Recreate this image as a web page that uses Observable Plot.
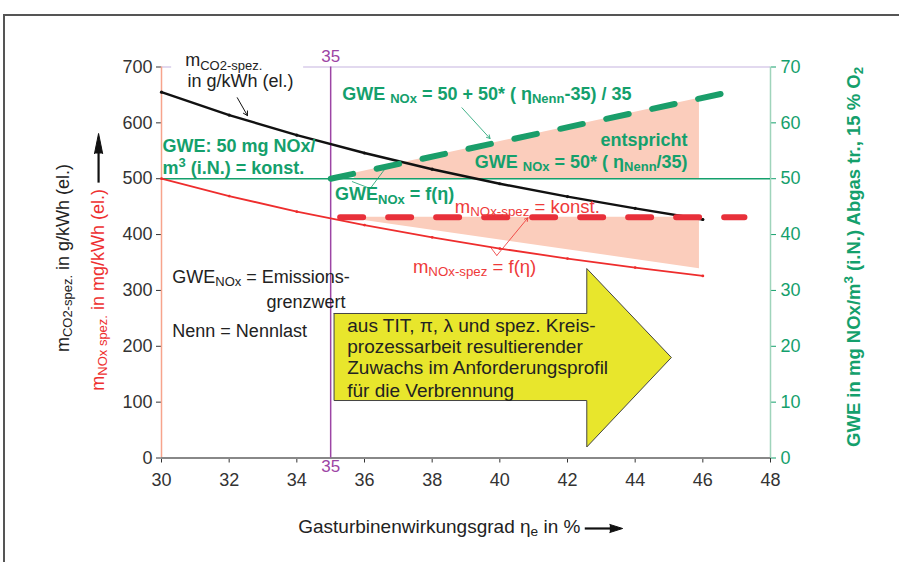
<!DOCTYPE html>
<html><head><meta charset="utf-8">
<script src="https://cdn.jsdelivr.net/npm/d3@7"></script>
<script src="https://cdn.jsdelivr.net/npm/@observablehq/plot@0.6"></script>
<style>
body{margin:0;background:#fff;}
#wrap{position:relative;width:899px;height:562px;overflow:hidden;background:#fff;}
#frame{position:absolute;left:3px;top:14px;width:900px;height:560px;border-top:2px solid #555;border-left:2px solid #555;pointer-events:none;}
</style></head><body>
<div id="wrap"><div id="chart"></div><div id="frame"></div></div>
<script>
// ---- data ----
const eta = [30, 32, 34, 36, 38, 40, 42, 44, 46];               // Gasturbinenwirkungsgrad in %
const co2Spez = [655, 614, 578, 546, 517, 491, 468, 447, 427];  // g/kWh
const noxSpez = [500, 469, 441, 417, 395, 375, 357, 341, 326];  // mg/kWh
const gweKonst = 50;                 // mg NOx/m3 (right axis)
const gweDynEta = [35, 46.7];
const gweDyn = [50, 65.4];           // mg NOx/m3 (right axis)
const noxKonst = 431;                // mg/kWh
const noxKonstEta = [35.28, 47.23];
const hatchUpEta = [35.7, 45.9];
const hatchUpLow = [50, 50];
const hatchUpHigh = [51, 64.4];
const hatchLowEta = [36.0, 45.9];
const hatchLowTop = [431, 431];
const hatchLowBottom = [425, 339];
const xTicks = [30, 32, 34, 36, 38, 40, 42, 44, 46, 48];
const yTicksLeft = [0, 100, 200, 300, 400, 500, 600, 700];
const yTicksRight = [0, 10, 20, 30, 40, 50, 60, 70];
const nennEta = 35;

// annotation anchors (data coordinates)
const labelsGreen = [
  {x: 30.03, y: 547, t: "GWE: 50 mg NOx/"},
  {x: 30.03, y: 509, t: "m^{3} (i.N.) = konst."},
  {x: 35.34, y: 641, t: "GWE _{NOx} = 50 + 50* ( η_{Nenn}-35) / 35"},
  {x: 35.13, y: 461, t: "GWE_{NOx} = f(η)"}
];
const labelsGreenRight = [
  {x: 45.55, y: 559, t: "entspricht"},
  {x: 45.55, y: 520, t: "GWE _{NOx} = 50* ( η_{Nenn}/35)"}
];
const labelsRed = [
  {x: 38.67, y: 439, t: "m_{NOx-spez} = konst."},
  {x: 37.43, y: 331, t: "m_{NOx-spez} = f(η)"}
];
const labelsBlack = [
  {x: 30.70, y: 701, t: "m_{CO2-spez.}"},
  {x: 30.77, y: 664, t: "in g/kWh (el.)"},
  {x: 30.32, y: 314, t: "GWE_{NOx} = Emissions-"},
  {x: 33.10, y: 269, t: "grenzwert"},
  {x: 30.32, y: 216, t: "Nenn = Nennlast"}
];
const labelsBox = [
  {x: 35.49, y: 226, t: "aus TIT, π, λ und spez. Kreis-"},
  {x: 35.49, y: 188, t: "prozessarbeit resultierender"},
  {x: 35.49, y: 149.5, t: "Zuwachs im Anforderungsprofil"},
  {x: 35.49, y: 109, t: "für die Verbrennung"}
];
const arrowPoly = [
  {x: 35.10, y: 258.7}, {x: 42.57, y: 258.7}, {x: 42.57, y: 339.2}, {x: 45.07, y: 179.9},
  {x: 42.57, y: 19.7}, {x: 42.57, y: 102.9}, {x: 35.10, y: 102.9}, {x: 35.10, y: 258.7}
];
const pointersBlack = [{x1: 32.24, y1: 645, x2: 32.54, y2: 613}];
const pointersGreen = [{x1: 38.88, y1: 627, x2: 39.71, y2: 572}];
const pointersRed = [{x1: 39.91, y1: 362.5, x2: 40.83, y2: 430}];
const strokesRed = [{x1: 39.91, y1: 362.5, x2: 39.71, y2: 378.6}];
const strokesGreen = [
  {x1: 36.17, y1: 482.5, x2: 35.63, y2: 495},
  {x1: 36.17, y1: 482.5, x2: 36.61, y2: 518}
];
const topRule = [{a: 30, b: 30.3}, {a: 34.2, b: 48}];
const yLeftTitles = [
  {x: 27.27, y: 358, t: "m_{CO2-spez.} in g/kWh (el.)", c: "#222"},
  {x: 28.29, y: 301, t: "m_{NOx spez.} in mg/kWh (el.)", c: "#ee2f2f"}
];
const yRightTitle = [{x: 50.65, y: 360, t: "GWE in mg NOx/m^{3} (i.N.) Abgas tr., 15 % O_{2}"}];
const xTitle = [{x: 34.04, y: -133.4, t: "Gasturbinenwirkungsgrad η_{e} in %"}];
const arrowShafts = [
  {x1: 28.14, y1: 493, x2: 28.14, y2: 550},
  {x1: 42.51, y1: -126.2, x2: 43.3, y2: -126.2}
];
const arrowHeads = [
  {id: "up", x: 28.02, y: 545}, {id: "up", x: 28.14, y: 581}, {id: "up", x: 28.26, y: 545},
  {id: "right", x: 43.25, y: -119}, {id: "right", x: 43.63, y: -126.2}, {id: "right", x: 43.25, y: -133.4}
];

// ---- build ----
const GREEN = "#14a06c", RED = "#ee2d2d", PURPLE = "#9c45a5";
const co2Data = eta.map((x, i) => ({x, y: co2Spez[i]}));
const noxData = eta.map((x, i) => ({x, y: noxSpez[i]}));
const gweDynData = gweDynEta.map((x, i) => ({x, y: gweDyn[i] * 10}));
const noxKonstData = noxKonstEta.map(x => ({x, y: noxKonst}));
const hatchUp = hatchUpEta.map((x, i) => ({x, lo: hatchUpLow[i] * 10, hi: hatchUpHigh[i] * 10}));
const hatchLow = hatchLowEta.map((x, i) => ({x, lo: hatchLowBottom[i], hi: hatchLowTop[i]}));

const chart = Plot.plot({
  width: 899, height: 562,
  marginLeft: 161, marginRight: 129, marginTop: 66.5, marginBottom: 104.5,
  x: {domain: [30, 48]},
  y: {domain: [0, 700]},
  style: {fontFamily: "'Liberation Sans', Arial, Helvetica, sans-serif", fontSize: "18px", color: "#222", background: "white", overflow: "visible"},
  marks: [
    Plot.areaY(hatchUp, {x: "x", y1: "lo", y2: "hi", fill: "#fbcdbc"}),
    Plot.areaY(hatchLow, {x: "x", y1: "lo", y2: "hi", fill: "#fbcdbc"}),
    Plot.ruleY(topRule, {y: 700, x1: "a", x2: "b", stroke: "#d9cdea", strokeWidth: 1.5}),
    Plot.axisX({ticks: xTicks, tickSize: 5, tickPadding: 10, fontSize: 18, label: null, color: "#333"}),
    Plot.axisY({anchor: "left", ticks: yTicksLeft, tickSize: 5, tickPadding: 4, fontSize: 18, label: null, color: "#333"}),
    Plot.axisY({anchor: "right", ticks: yTicksRight.map(v => v * 10), tickFormat: d => d / 10, tickSize: 5, tickPadding: 5, fontSize: 18, label: null, color: GREEN}),
    Plot.ruleX([30], {stroke: "#f7a48c", strokeWidth: 1.5}),
    Plot.ruleX([48], {stroke: "#9fd4bb", strokeWidth: 1.5}),
    Plot.ruleY([0], {stroke: "#888", strokeWidth: 2}),
    Plot.ruleX([nennEta], {stroke: PURPLE, strokeWidth: 1.5}),
    Plot.text([String(nennEta)], {x: nennEta, y: 700, dy: -5, lineAnchor: "bottom", fill: PURPLE, fontSize: 17}),
    Plot.text([String(nennEta)], {x: nennEta, y: 0, dy: 2, lineAnchor: "top", fill: PURPLE, fontSize: 17}),
    Plot.ruleY([gweKonst * 10], {stroke: GREEN, strokeWidth: 1.5}),
    Plot.line(co2Data, {x: "x", y: "y", stroke: "#111", strokeWidth: 2.4}),
    Plot.dot(co2Data, {x: "x", y: "y", r: 1.6, fill: "#111"}),
    Plot.line(noxData, {x: "x", y: "y", stroke: RED, strokeWidth: 1.8}),
    Plot.dot(noxData, {x: "x", y: "y", r: 1.4, fill: RED}),
    Plot.line(gweDynData, {x: "x", y: "y", stroke: "#1a9e6a", strokeWidth: 6, strokeDasharray: "23,24"}),
    Plot.line(noxKonstData, {x: "x", y: "y", stroke: "#e8303a", strokeWidth: 6, strokeDasharray: "23,25"}),
    Plot.line(arrowPoly, {x: "x", y: "y", fill: "#e8e62c", stroke: "#444", strokeWidth: 1}),
    Plot.arrow(pointersBlack, {x1: "x1", y1: "y1", x2: "x2", y2: "y2", stroke: "#111", strokeWidth: 1, headLength: 7}),
    Plot.arrow(pointersGreen, {x1: "x1", y1: "y1", x2: "x2", y2: "y2", stroke: GREEN, strokeWidth: 0.8, headLength: 7}),
    Plot.arrow(pointersRed, {x1: "x1", y1: "y1", x2: "x2", y2: "y2", stroke: RED, strokeWidth: 0.8, headLength: 7}),
    Plot.link(strokesRed, {x1: "x1", y1: "y1", x2: "x2", y2: "y2", stroke: RED, strokeWidth: 0.8}),
    Plot.link(strokesGreen, {x1: "x1", y1: "y1", x2: "x2", y2: "y2", stroke: GREEN, strokeWidth: 0.8}),
    Plot.text(labelsGreen, {x: "x", y: "y", text: "t", textAnchor: "start", lineAnchor: "bottom", fill: GREEN, fontWeight: "bold", fontSize: 18}),
    Plot.text(labelsGreenRight, {x: "x", y: "y", text: "t", textAnchor: "end", lineAnchor: "bottom", fill: GREEN, fontWeight: "bold", fontSize: 18}),
    Plot.text(labelsRed, {x: "x", y: "y", text: "t", textAnchor: "start", lineAnchor: "bottom", fill: "#ee3a3a", fontSize: 18.5}),
    Plot.text(labelsBlack, {x: "x", y: "y", text: "t", textAnchor: "start", lineAnchor: "bottom", fill: "#222", fontSize: 18}),
    Plot.text(labelsBox, {x: "x", y: "y", text: "t", textAnchor: "start", lineAnchor: "bottom", fill: "#222", fontSize: 19}),
    Plot.text(yLeftTitles, {x: "x", y: "y", text: "t", fill: "c", rotate: -90, textAnchor: "middle", lineAnchor: "bottom", fontSize: 18}),
    Plot.text(yRightTitle, {x: "x", y: "y", text: "t", fill: GREEN, fontWeight: "bold", rotate: -90, textAnchor: "middle", lineAnchor: "bottom", fontSize: 18.5}),
    Plot.text(xTitle, {x: "x", y: "y", text: "t", fill: "#222", textAnchor: "start", lineAnchor: "bottom", fontSize: 19}),
    Plot.link(arrowShafts, {x1: "x1", y1: "y1", x2: "x2", y2: "y2", stroke: "#111", strokeWidth: 2.2}),
    Plot.line(arrowHeads, {x: "x", y: "y", z: "id", fill: "#111", stroke: "#111", strokeWidth: 1})
  ]
});
document.getElementById("chart").appendChild(chart);

const NS = "http://www.w3.org/2000/svg";
// sub/superscripts
function richText(root) {
  root.querySelectorAll("text").forEach(t => {
    const s = t.textContent;
    if (!/[_^]\{/.test(s)) return;
    const fs = parseFloat(getComputedStyle(t).fontSize) || 18;
    while (t.firstChild) t.removeChild(t.firstChild);
    let cur = 0;
    const add = (str, off, small) => {
      if (!str) return;
      const ts = document.createElementNS(NS, "tspan");
      ts.textContent = str;
      const dy = off - cur;
      if (dy) ts.setAttribute("dy", dy.toFixed(2));
      if (small) ts.setAttribute("font-size", (fs * 0.72).toFixed(1));
      cur = off;
      t.appendChild(ts);
    };
    const re = /([_^])\{([^}]*)\}/g;
    let last = 0, m;
    while ((m = re.exec(s))) {
      add(s.slice(last, m.index), 0, false);
      add(m[2], m[1] === "_" ? fs * 0.17 : -fs * 0.38, true);
      last = re.lastIndex;
    }
    add(s.slice(last), 0, false);
  });
}
richText(chart);
</script>
</body></html>
